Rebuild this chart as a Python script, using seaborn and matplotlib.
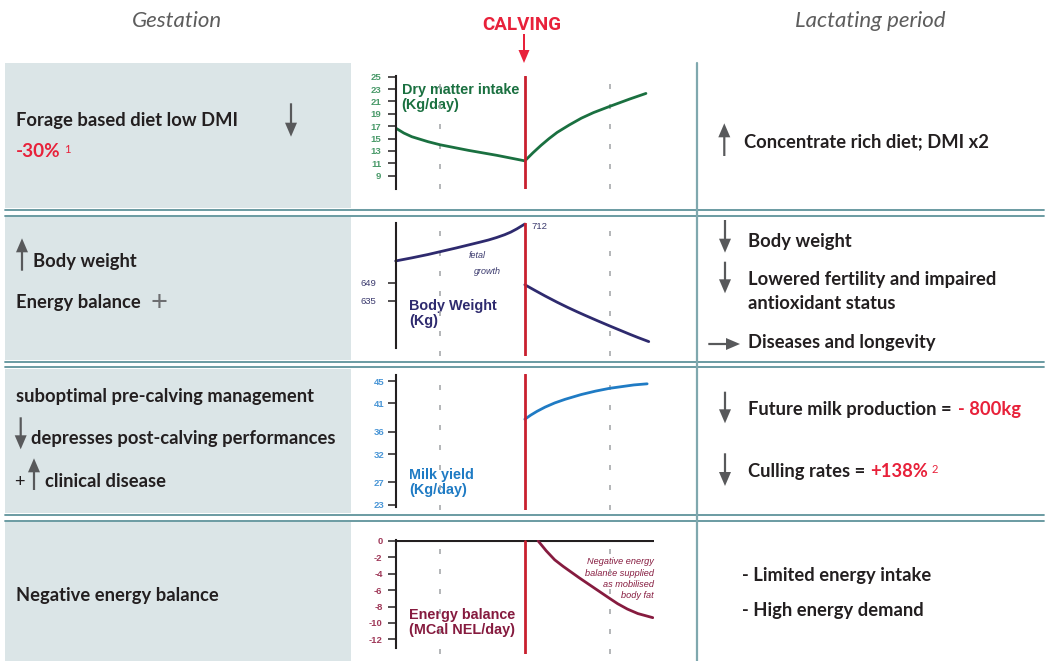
import matplotlib
matplotlib.use('Agg')
import matplotlib.pyplot as plt
import seaborn as sns
from matplotlib.patches import Rectangle, FancyArrow

# data (days relative to calving)
days_range = [-32, 32]
guide_days = [-21, 21]
calving_day = 0

dmi_days = [-32, -30, -28, -26, -24, -21, -14, -7, 0, 2, 4, 6, 8, 11, 14, 17, 21, 26, 30]
dmi_kg = [16.7, 15.9, 15.3, 14.9, 14.5, 14.0, 13.1, 12.3, 11.4,
          12.7, 13.9, 15.0, 16.0, 17.2, 18.3, 19.2, 20.2, 21.4, 22.3]
dmi_ticks = [9, 11, 13, 15, 17, 19, 21, 23, 25]

bw_pre_days = [-32, -28, -24, -21, -17, -14, -11, -9, -7, -5, -3.5, -2, 0]
bw_pre_kg = [665.9, 668.3, 670.9, 673.1, 676.0, 678.3, 680.6, 682.2, 684.1, 686.3, 688.3, 690.8, 694.6]
bw_post_days = [0, 2.5, 5, 8, 10.6, 13, 15, 18, 21, 24, 26, 28, 30.7]
bw_post_kg = [647.4, 643.0, 638.7, 633.8, 629.8, 626.3, 623.5, 619.4, 615.4, 611.5, 608.9, 606.4, 603.2]
bw_ticks = [635, 649]
bw_peak_label = '712'

milk_days = [0, 1.5, 3, 5, 7.4, 10, 14, 17.5, 21, 24, 27, 30.3]
milk_kg = [38.2, 38.95, 39.6, 40.35, 41.1, 41.75, 42.6, 43.2, 43.7, 44.0, 44.3, 44.5]
milk_ticks = [23, 27, 32, 36, 41, 45]

eb_days = [3.3, 5.3, 7.4, 9.5, 11.5, 13.5, 15.6, 18, 21, 23, 25.4, 28, 31.7]
eb_mcal = [0, -1.2, -2.3, -3.1, -3.8, -4.5, -5.2, -6.0, -7.0, -7.65, -8.3, -8.85, -9.35]
eb_ticks = [-12, -10, -8, -6, -4, -2, 0]

sns.set_style('white')
plt.rcParams['font.family'] = ['Lato', 'DejaVu Sans']

W, H = 1049, 661
fig = plt.figure(figsize=(W / 100, H / 100), dpi=100)
bg = fig.add_axes([0, 0, 1, 1])
bg.set_xlim(0, W)
bg.set_ylim(H, 0)
bg.axis('off')

PANEL = '#dbe5e7'
TEAL = '#5f939b'
DARK = '#231f20'
GREY = '#58595b'
RED = '#e8213a'
CALV = '#c9202f'
FS = 13.2

# gestation boxes + row separators
for top, bot in [(63, 208), (217, 360), (369, 513), (522, 661)]:
    bg.add_patch(Rectangle((5, top), 345.7, bot - top, color=PANEL, lw=0))
for y1, y2 in [(210, 215.5), (361.5, 367), (515, 520.5)]:
    for y in (y1, y2):
        bg.plot([5, 1044], [y, y], color=TEAL, lw=1.3)
bg.plot([697, 697], [63, 661], color='#7fa8ae', lw=1.6)


def arrow(x0, y0, x1, y1, color=GREY, hw=12, hl=14, w=2.2):
    bg.add_patch(FancyArrow(x0, y0, x1 - x0, y1 - y0, width=w, head_width=hw, head_length=hl,
                            length_includes_head=True, color=color, lw=0))


def label(x, y, s, **kw):
    kw.setdefault('fontsize', FS)
    kw.setdefault('weight', 'bold')
    kw.setdefault('color', DARK)
    return bg.text(x, y, s, va='baseline', **kw)


def red_after(t, s, gap):
    return bg.annotate(s, xy=(1, 0), xycoords=t, xytext=(gap, 0), textcoords='offset points',
                       va='bottom', ha='left', fontsize=FS, weight='bold', color=RED)


def sup(t, s):
    bg.annotate(s, xy=(1, 1), xycoords=t, xytext=(2.5, -1), textcoords='offset points',
                va='top', ha='left', fontsize=8, color=RED)


# header
bg.text(177, 26.7, 'Gestation', ha='center', va='baseline', fontsize=16, style='italic', color='#5d5d5d')
bg.text(870, 26.7, 'Lactating period', ha='center', va='baseline', fontsize=16, style='italic', color='#5d5d5d')
bg.text(522, 30, 'CALVING', ha='center', va='baseline', fontsize=13.5, weight='bold', color=RED,
        family=['Roboto', 'DejaVu Sans'])
arrow(524, 34, 524, 63, color=RED, hw=11, hl=13, w=2)

# left column
label(16, 125.7, 'Forage based diet low DMI')
arrow(291, 103.3, 291, 136.7)
t = label(16, 156.7, '-30%', color=RED, fontsize=13.6)
sup(t, '1')

arrow(22, 270.7, 22, 238.3)
label(33, 267.3, 'Body weight')
label(16, 308.3, 'Energy balance')
bg.text(158.7, 302.5, '+', ha='center', va='center', fontsize=21, weight='normal', color='#6d6e71')

label(16, 401.7, 'suboptimal pre-calving management')
arrow(20.7, 417.3, 20.7, 449.3)
label(31, 444, 'depresses post-calving performances')
label(14, 486.7, '+', weight='normal')
arrow(34, 490, 34, 458.3)
label(45, 486.7, 'clinical disease')

label(16, 600.7, 'Negative energy balance')

# right column
arrow(724.3, 156, 724.3, 123.3)
label(744.3, 147.3, 'Concentrate rich diet; DMI x2')

arrow(725, 220, 725, 252.7)
label(747.7, 246.7, 'Body weight')
arrow(725, 261.7, 725, 293.3)
label(747.7, 285.3, 'Lowered fertility and impaired')
label(747.7, 309.3, 'antioxidant status')
arrow(708.3, 344, 740, 344)
label(747.7, 348.3, 'Diseases and longevity')

arrow(725, 391.7, 725, 423.3)
t = label(747.7, 415, 'Future milk production =')
red_after(t, '- 800kg', 5)
arrow(725, 453.3, 725, 486)
t = label(747.7, 476.7, 'Culling rates =')
t2 = red_after(t, '+138%', 4)
sup(t2, '2')

label(741.7, 580.7, '- Limited energy intake')
label(741.7, 616, '- High energy demand')


def chart(top, bottom, ylim, spine, ticks, tick_color, pad, weight='bold', guide_lo=None):
    ax = fig.add_axes([395.7 / W, 1 - bottom / H, (654 - 395.7) / W, (bottom - top) / H])
    ax.set_facecolor('none')
    lo = ylim[0]
    hi = ylim[1] if guide_lo is None else guide_lo
    for d in guide_days:
        ax.plot([d, d], [lo, hi], color='#a7a9ac', lw=1.2, dashes=(3, 9))
    ax.plot([calving_day, calving_day], [lo, hi], color=CALV, lw=2, zorder=5)
    ax.set_xlim(*days_range)
    ax.set_ylim(*ylim)
    sns.despine(ax=ax, bottom=True)
    ax.spines['left'].set_bounds(*spine)
    ax.spines['left'].set_color(DARK)
    ax.spines['left'].set_linewidth(1.5)
    ax.set_xticks([])
    ax.set_yticks(ticks)
    ax.set_yticklabels([str(v) for v in ticks])
    ax.tick_params(axis='y', left=True, direction='out', length=5.5, width=1.1, color=DARK,
                   labelsize=6.8, labelcolor=tick_color, pad=pad)
    for lb in ax.get_yticklabels():
        lb.set_fontfamily('Liberation Sans')
        lb.set_fontweight(weight)
    return ax


def title(x, y, s, color):
    # y is the baseline of the last line
    bg.text(x, y, s, va='baseline', fontsize=10.4, weight='bold', color=color,
            family='Liberation Sans', linespacing=1.1)


GREEN = '#1a7040'
NAVY = '#2e2a6e'
BLUE = '#1f7bc4'
MAROON = '#861b3f'

ax1 = chart(75.5, 189, (6.85, 25.2), (6.85, 25.2), dmi_ticks, '#4a9a6a', 5.0)
sns.lineplot(x=dmi_days, y=dmi_kg, ax=ax1, color=GREEN, lw=2)
ax1.set_ylim(6.85, 25.2)
title(401.7, 109.5, 'Dry matter intake\n(Kg/day)', GREEN)

ax2 = chart(223, 356, (592, 695.4), (598, 695.4), bw_ticks, '#3b3a6e', 8.5, weight='normal')
sns.lineplot(x=bw_pre_days, y=bw_pre_kg, ax=ax2, color=NAVY, lw=2, clip_on=False)
sns.lineplot(x=bw_post_days, y=bw_post_kg, ax=ax2, color=NAVY, lw=2)
ax2.set_ylim(592, 695.4)
ax2.annotate(bw_peak_label, xy=(calving_day, bw_pre_kg[-1]), xytext=(5, -2), textcoords='offset points',
             va='center', ha='left', fontsize=6.8, color='#3b3a6e', family='Liberation Sans')
bg.text(468.3, 255, 'fetal', va='center', fontsize=6.5, style='italic', color='#3b3a6e', family='Liberation Sans')
bg.text(474.3, 271, 'growth', va='center', fontsize=6.5, style='italic', color='#3b3a6e', family='Liberation Sans')
title(409, 325, 'Body Weight\n(Kg)', NAVY)

ax3 = chart(373.7, 510, (22.05, 46.3), (22.6, 46.1), milk_ticks, '#4a96d6', 2.7)
sns.lineplot(x=milk_days, y=milk_kg, ax=ax3, color=BLUE, lw=2)
ax3.set_ylim(22.05, 46.3)
title(409, 493.7, 'Milk yield\n(Kg/day)', BLUE)

ax4 = chart(540, 654, (-13.78, 0.12), (-13.1, 0.12), eb_ticks, '#a03a5a', 4.0, guide_lo=0)
ax4.plot(days_range, [0, 0], color=DARK, lw=1.5)
sns.lineplot(x=eb_days, y=eb_mcal, ax=ax4, color=MAROON, lw=2)
ax4.set_ylim(-13.78, 0.12)
bg.text(654, 557.5, 'Negative energy\nbalance supplied\nas mobilised\nbody fat', ha='right', va='top',
        fontsize=6.6, style='italic', color=MAROON, family='Liberation Sans', linespacing=1.3)
title(409, 634.3, 'Energy balance\n(MCal NEL/day)', MAROON)

for ax in (ax1, ax2, ax3, ax4):
    ax.set_xlabel('')
    ax.set_ylabel('')

fig.savefig('out.png', dpi=100)
